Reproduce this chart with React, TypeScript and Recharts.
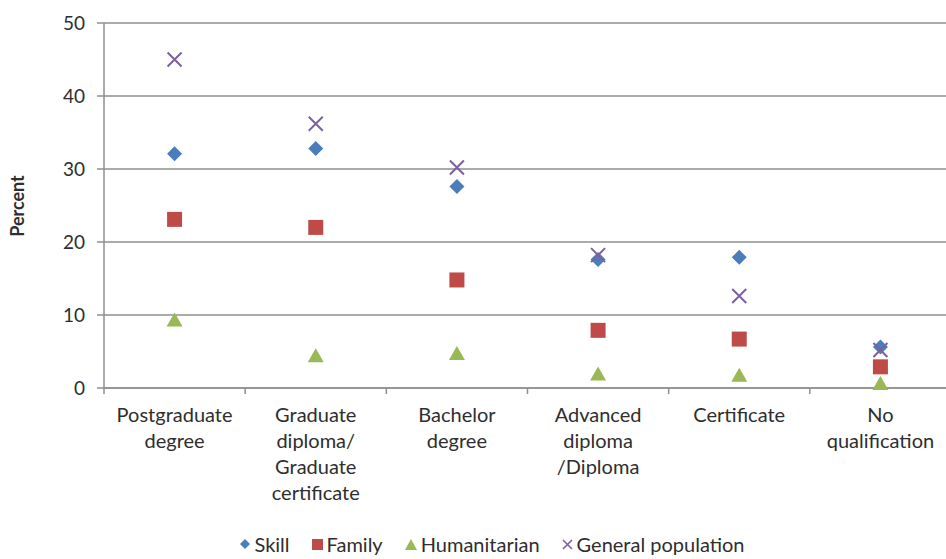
import React from 'react';
import { ScatterChart, Scatter, XAxis, YAxis, CartesianGrid, Legend } from 'recharts';

const categories = [
  ['Postgraduate', 'degree'],
  ['Graduate', 'diploma/', 'Graduate', 'certificate'],
  ['Bachelor', 'degree'],
  ['Advanced', 'diploma', '/Diploma'],
  ['Certificate'],
  ['No', 'qualification'],
];
const skill = [32.1, 32.8, 27.6, 17.6, 17.9, 5.6];
const family = [23.1, 22.0, 14.8, 7.9, 6.7, 2.9];
const humanitarian = [9.4, 4.5, 4.8, 2.0, 1.8, 0.7];
const generalPopulation = [45.0, 36.2, 30.2, 18.2, 12.6, 5.2];
const yTicks = [0, 10, 20, 30, 40, 50];

const seriesNames = ['Skill', 'Family', 'Humanitarian', 'General population'];
const COLORS = { skill: '#4A7EBB', family: '#BE4B48', humanitarian: '#98B954', general: '#7D60A0' };

const toPoints = (vals: number[]) => vals.map((v, i) => ({ x: i + 0.5, y: v }));

const FONT = 'Lato, "Open Sans", sans-serif';
const TEXT = '#2e2e2e';
const GRID = '#8f8f8f';

const Diamond = (p: any) => {
  const { cx, cy } = p;
  const r = 7.5;
  return <path d={`M${cx},${cy - r}L${cx + r},${cy}L${cx},${cy + r}L${cx - r},${cy}Z`} fill={COLORS.skill} />;
};
const Square = (p: any) => {
  const { cx, cy } = p;
  const s = 15;
  return <rect x={cx - s / 2} y={cy - s / 2} width={s} height={s} fill={COLORS.family} />;
};
const Triangle = (p: any) => {
  const { cx, cy } = p;
  const w = 16, h = 14;
  return <path d={`M${cx},${cy - h / 2}L${cx + w / 2},${cy + h / 2}L${cx - w / 2},${cy + h / 2}Z`} fill={COLORS.humanitarian} />;
};
const XMark = (p: any) => {
  const { cx, cy } = p;
  const r = 7;
  return (
    <path
      d={`M${cx - r},${cy - r}L${cx + r},${cy + r}M${cx - r},${cy + r}L${cx + r},${cy - r}`}
      stroke={COLORS.general}
      strokeWidth={2}
      fill="none"
    />
  );
};

const xTicks: number[] = [];
for (let i = 0; i <= categories.length * 2; i++) xTicks.push(i / 2);

const XTick = (props: any) => {
  const { x, y, payload } = props;
  const v = payload.value as number;
  if (Number.isInteger(v)) {
    return <line x1={x} x2={x} y1={y} y2={y + 6} stroke={GRID} strokeWidth={1.5} />;
  }
  const lines = categories[Math.floor(v)] || [];
  return (
    <text x={x} y={y} textAnchor="middle" fill={TEXT} fontFamily={FONT} fontSize={20}>
      {lines.map((l, i) => (
        <tspan key={i} x={x} y={y + 34 + i * 26}>
          {l}
        </tspan>
      ))}
    </text>
  );
};

const legendIcon = (i: number) => {
  if (i === 0) return <svg width={10} height={10}><path d="M5,0L10,5L5,10L0,5Z" fill={COLORS.skill} /></svg>;
  if (i === 1) return <svg width={11} height={11}><rect width={11} height={11} fill={COLORS.family} /></svg>;
  if (i === 2) return <svg width={12} height={11}><path d="M6,0L12,11L0,11Z" fill={COLORS.humanitarian} /></svg>;
  return <svg width={11} height={11}><path d="M1,1L10,10M1,10L10,1" stroke={COLORS.general} strokeWidth={1.6} /></svg>;
};

const LegendContent = () => (
  <div
    style={{
      display: 'flex',
      justifyContent: 'center',
      alignItems: 'center',
      paddingLeft: 34,
      paddingTop: 14,
      fontFamily: FONT,
      fontSize: 20,
      lineHeight: '22px',
      color: TEXT,
    }}
  >
    {seriesNames.map((n, i) => (
      <div key={n} style={{ display: 'flex', alignItems: 'center', marginRight: i < 3 ? 22 : 0 }}>
        <span style={{ marginRight: 4, display: 'flex' }}>{legendIcon(i)}</span>
        <span>{n}</span>
      </div>
    ))}
  </div>
);

export default function App() {
  return (
    <div
      style={{
        position: 'fixed',
        left: 0,
        top: 0,
        width: 946,
        height: 559,
        overflow: 'hidden',
        background: '#ffffff',
      }}
    >
      <ScatterChart width={960} height={559} margin={{ top: 23, right: 9, bottom: 0, left: 0 }}>
        <CartesianGrid vertical={false} stroke={GRID} strokeWidth={1.5} />
        <XAxis
          type="number"
          dataKey="x"
          domain={[0, 6]}
          ticks={xTicks}
          interval={0}
          tickLine={false}
          tickSize={0}
          tickMargin={0}
          axisLine={{ stroke: GRID, strokeWidth: 1.5 }}
          tick={<XTick />}
          height={131}
          allowDataOverflow
        />
        <YAxis
          type="number"
          dataKey="y"
          domain={[0, 50]}
          ticks={yTicks}
          interval={0}
          width={104}
          tickSize={7}
          tickMargin={12}
          axisLine={{ stroke: GRID, strokeWidth: 1.5 }}
          tickLine={{ stroke: GRID, strokeWidth: 1.5 }}
          tick={{ fill: TEXT, fontFamily: FONT, fontSize: 19 }}
          label={{
            content: () => (
              <text
                x={24}
                y={206}
                transform="rotate(-90 24 206)"
                textAnchor="middle"
                fill={TEXT}
                fontFamily={FONT}
                fontSize={18}
                fontWeight="bold"
              >
                Percent
              </text>
            ),
          }}
        />
        <Legend verticalAlign="bottom" height={40} content={<LegendContent />} />
        <Scatter name={seriesNames[0]} data={toPoints(skill)} shape={<Diamond />} isAnimationActive={false} />
        <Scatter name={seriesNames[1]} data={toPoints(family)} shape={<Square />} isAnimationActive={false} />
        <Scatter name={seriesNames[2]} data={toPoints(humanitarian)} shape={<Triangle />} isAnimationActive={false} />
        <Scatter name={seriesNames[3]} data={toPoints(generalPopulation)} shape={<XMark />} isAnimationActive={false} />
      </ScatterChart>
    </div>
  );
}
